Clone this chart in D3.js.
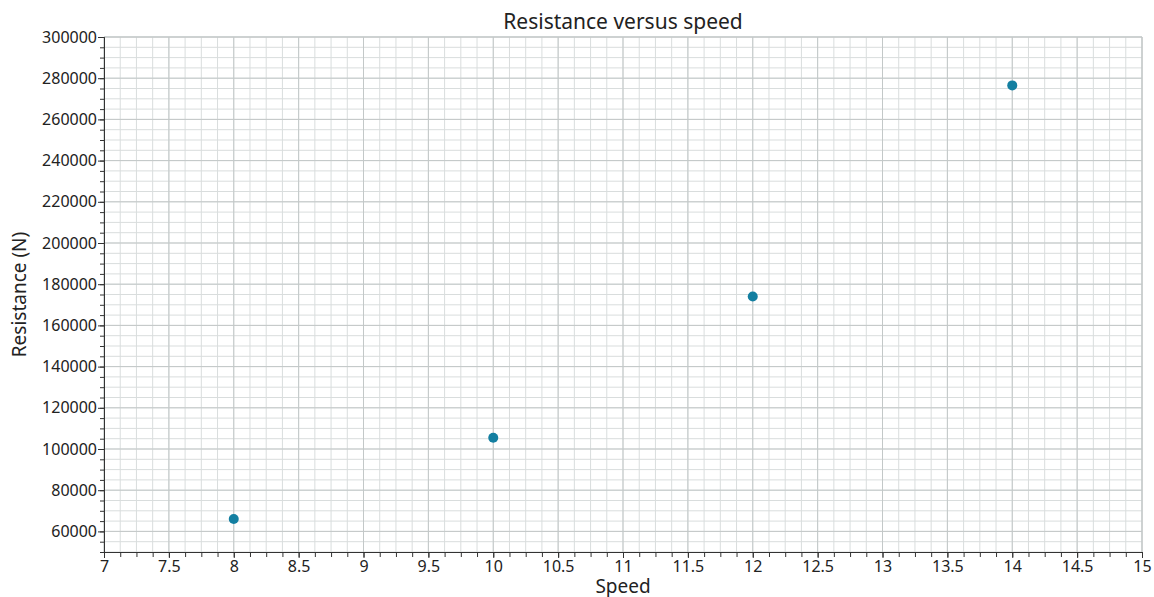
<!DOCTYPE html>
<html>
<head>
<meta charset="utf-8">
<script src="https://cdn.jsdelivr.net/npm/d3@7"></script>
<style>
  body { margin: 0; background: #fff; }
  text { font-family: "Noto Sans", "Open Sans", sans-serif; fill: #222; }
</style>
</head>
<body>
<svg id="chart" width="1154" height="597"></svg>
<script>
var speeds = [8, 10, 12, 14];
var resistances = [66000, 105500, 174000, 276500];
var xDomain = [7, 15];
var yDomain = [50000, 300000];
var xMajorStep = 0.5, xMinorStep = 0.125;
var yMajorStep = 20000, yMinorStep = 5000;

var svg = d3.select("#chart"),
  width = +svg.attr("width"),
  height = +svg.attr("height"),
  margin = {top: 37, right: 12, bottom: 45, left: 104},
  x = d3.scaleLinear().domain(xDomain).range([margin.left, width - margin.right]),
  y = d3.scaleLinear().domain(yDomain).range([height - margin.bottom, margin.top]);

// tick positions
var xMinor = d3.range(xDomain[0], xDomain[1] + 1e-9, xMinorStep),
  xMajor = d3.range(xDomain[0], xDomain[1] + 1e-9, xMajorStep),
  yMinor = d3.range(yDomain[0], yDomain[1] + 1, yMinorStep),
  yMajor = d3.range(60000, yDomain[1] + 1, yMajorStep);

var grid = svg.append("g");
grid.selectAll(".vmin").data(xMinor).enter().append("line")
  .attr("x1", d => x(d)).attr("x2", d => x(d))
  .attr("y1", y(yDomain[0])).attr("y2", y(yDomain[1]))
  .attr("stroke", "#d9dddd").attr("stroke-width", 1);
grid.selectAll(".hmin").data(yMinor).enter().append("line")
  .attr("y1", d => y(d)).attr("y2", d => y(d))
  .attr("x1", x(xDomain[0])).attr("x2", x(xDomain[1]))
  .attr("stroke", "#d9dddd").attr("stroke-width", 1);
grid.selectAll(".vmaj").data(xMajor).enter().append("line")
  .attr("x1", d => x(d)).attr("x2", d => x(d))
  .attr("y1", y(yDomain[0])).attr("y2", y(yDomain[1]))
  .attr("stroke", "#c3c8c8").attr("stroke-width", 1);
grid.selectAll(".hmaj").data(yMajor).enter().append("line")
  .attr("y1", d => y(d)).attr("y2", d => y(d))
  .attr("x1", x(xDomain[0])).attr("x2", x(xDomain[1]))
  .attr("stroke", "#c3c8c8").attr("stroke-width", 1);
// top / right border
grid.append("line").attr("x1", x(xDomain[0])).attr("x2", x(xDomain[1]))
  .attr("y1", y(yDomain[1])).attr("y2", y(yDomain[1])).attr("stroke", "#c3c8c8");
grid.append("line").attr("x1", x(xDomain[1])).attr("x2", x(xDomain[1]))
  .attr("y1", y(yDomain[0])).attr("y2", y(yDomain[1])).attr("stroke", "#c3c8c8");

// axes
var xAxisMinor = d3.axisBottom(x).tickValues(xMinor).tickSize(5).tickFormat("");
var xAxis = d3.axisBottom(x).tickValues(xMajor).tickSize(6).tickSizeOuter(0)
  .tickFormat(d3.format("~g"));
var yAxisMinor = d3.axisLeft(y).tickValues(yMinor).tickSize(4).tickFormat("");
var yAxis = d3.axisLeft(y).tickValues(yMajor).tickSize(6).tickSizeOuter(0).tickPadding(1)
  .tickFormat(d3.format("d"));

function styleAxis(g) {
  g.select(".domain").attr("stroke", "#333");
  g.selectAll(".tick line").attr("stroke", "#333");
  g.selectAll(".tick text").attr("font-size", "16px").attr("fill", "#222")
    .attr("font-family", '"Noto Sans", "Open Sans", sans-serif');
}

svg.append("g").attr("transform", "translate(0," + y(yDomain[0]) + ")").call(xAxisMinor).call(styleAxis);
svg.append("g").attr("transform", "translate(0," + y(yDomain[0]) + ")").call(xAxis).call(styleAxis);
svg.append("g").attr("transform", "translate(" + x(xDomain[0]) + ",0)").call(yAxisMinor).call(styleAxis);
svg.append("g").attr("transform", "translate(" + x(xDomain[0]) + ",0)").call(yAxis).call(styleAxis);

// points
svg.append("g").selectAll("circle")
  .data(speeds.map((s, i) => [s, resistances[i]]))
  .enter().append("circle")
  .attr("cx", d => x(d[0]))
  .attr("cy", d => y(d[1]))
  .attr("r", 5)
  .attr("fill", "#137fa1");

// labels
svg.append("text").attr("x", (margin.left + width - margin.right) / 2).attr("y", 29)
  .attr("text-anchor", "middle").attr("font-size", "21px").text("Resistance versus speed");
svg.append("text").attr("x", (margin.left + width - margin.right) / 2).attr("y", 593)
  .attr("text-anchor", "middle").attr("font-size", "19px").text("Speed");
svg.append("text").attr("transform", "translate(26," + ((margin.top + height - margin.bottom) / 2) + ") rotate(-90)")
  .attr("text-anchor", "middle").attr("font-size", "19px").text("Resistance (N)");
</script>
</body>
</html>
